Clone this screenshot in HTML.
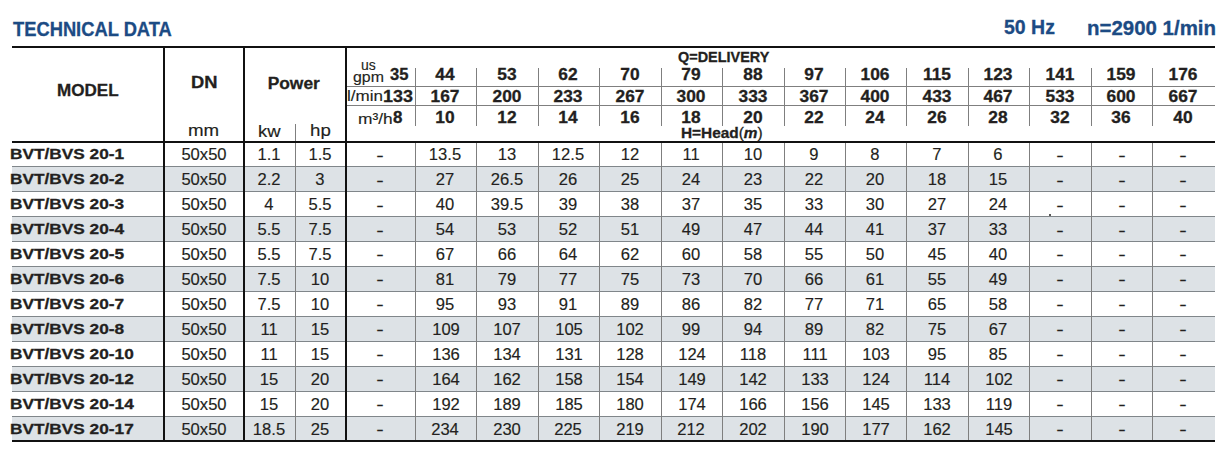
<!DOCTYPE html><html><head><meta charset="utf-8"><style>
html,body{margin:0;padding:0;background:#fff;}
body{width:1228px;height:458px;position:relative;overflow:hidden;font-family:"Liberation Sans",sans-serif;}
.t{position:absolute;white-space:nowrap;line-height:20px;height:20px;-webkit-text-stroke:0.15px currentColor;}
.l{position:absolute;}
.pl{font-weight:400;}
.b{-webkit-text-stroke:0.3px currentColor;}
i{font-style:italic;}
</style></head><body>
<div class="l" style="left:12px;top:166.82px;width:1203px;height:24.92px;background:#dde2e6"></div>
<div class="l" style="left:12px;top:216.66px;width:1203px;height:24.92px;background:#dde2e6"></div>
<div class="l" style="left:12px;top:266.50px;width:1203px;height:24.92px;background:#dde2e6"></div>
<div class="l" style="left:12px;top:316.34px;width:1203px;height:24.92px;background:#dde2e6"></div>
<div class="l" style="left:12px;top:366.18px;width:1203px;height:24.92px;background:#dde2e6"></div>
<div class="l" style="left:12px;top:416.02px;width:1203px;height:24.92px;background:#dde2e6"></div>
<div class="l" style="left:12px;top:166.32px;width:1203px;height:1px;background:#80868a"></div>
<div class="l" style="left:12px;top:191.24px;width:1203px;height:1px;background:#80868a"></div>
<div class="l" style="left:12px;top:216.16px;width:1203px;height:1px;background:#80868a"></div>
<div class="l" style="left:12px;top:241.08px;width:1203px;height:1px;background:#80868a"></div>
<div class="l" style="left:12px;top:266.00px;width:1203px;height:1px;background:#80868a"></div>
<div class="l" style="left:12px;top:290.92px;width:1203px;height:1px;background:#80868a"></div>
<div class="l" style="left:12px;top:315.84px;width:1203px;height:1px;background:#80868a"></div>
<div class="l" style="left:12px;top:340.76px;width:1203px;height:1px;background:#80868a"></div>
<div class="l" style="left:12px;top:365.68px;width:1203px;height:1px;background:#80868a"></div>
<div class="l" style="left:12px;top:390.60px;width:1203px;height:1px;background:#80868a"></div>
<div class="l" style="left:12px;top:415.52px;width:1203px;height:1px;background:#80868a"></div>
<div class="l" style="left:414.90px;top:143px;width:1px;height:297px;background:#7f7f7f"></div>
<div class="l" style="left:414.90px;top:68px;width:1px;height:58px;background:#7f7f7f"></div>
<div class="l" style="left:476.20px;top:143px;width:1px;height:297px;background:#7f7f7f"></div>
<div class="l" style="left:476.20px;top:68px;width:1px;height:58px;background:#7f7f7f"></div>
<div class="l" style="left:538.00px;top:143px;width:1px;height:297px;background:#7f7f7f"></div>
<div class="l" style="left:538.00px;top:68px;width:1px;height:58px;background:#7f7f7f"></div>
<div class="l" style="left:599.30px;top:143px;width:1px;height:297px;background:#7f7f7f"></div>
<div class="l" style="left:599.30px;top:68px;width:1px;height:58px;background:#7f7f7f"></div>
<div class="l" style="left:661.00px;top:143px;width:1px;height:297px;background:#7f7f7f"></div>
<div class="l" style="left:661.00px;top:68px;width:1px;height:58px;background:#7f7f7f"></div>
<div class="l" style="left:722.10px;top:143px;width:1px;height:297px;background:#7f7f7f"></div>
<div class="l" style="left:722.10px;top:68px;width:1px;height:58px;background:#7f7f7f"></div>
<div class="l" style="left:783.90px;top:143px;width:1px;height:297px;background:#7f7f7f"></div>
<div class="l" style="left:783.90px;top:68px;width:1px;height:58px;background:#7f7f7f"></div>
<div class="l" style="left:845.00px;top:143px;width:1px;height:297px;background:#7f7f7f"></div>
<div class="l" style="left:845.00px;top:68px;width:1px;height:58px;background:#7f7f7f"></div>
<div class="l" style="left:906.10px;top:143px;width:1px;height:297px;background:#7f7f7f"></div>
<div class="l" style="left:906.10px;top:68px;width:1px;height:58px;background:#7f7f7f"></div>
<div class="l" style="left:967.80px;top:143px;width:1px;height:297px;background:#7f7f7f"></div>
<div class="l" style="left:967.80px;top:68px;width:1px;height:58px;background:#7f7f7f"></div>
<div class="l" style="left:1029.00px;top:143px;width:1px;height:297px;background:#7f7f7f"></div>
<div class="l" style="left:1029.00px;top:68px;width:1px;height:58px;background:#7f7f7f"></div>
<div class="l" style="left:1090.90px;top:143px;width:1px;height:297px;background:#7f7f7f"></div>
<div class="l" style="left:1090.90px;top:68px;width:1px;height:58px;background:#7f7f7f"></div>
<div class="l" style="left:1152.10px;top:143px;width:1px;height:297px;background:#7f7f7f"></div>
<div class="l" style="left:1152.10px;top:68px;width:1px;height:58px;background:#7f7f7f"></div>
<div class="l" style="left:295px;top:124px;width:1px;height:316px;background:#7f7f7f"></div>
<div class="l" style="left:347px;top:86px;width:868px;height:1px;background:#7f7f7f"></div>
<div class="l" style="left:347px;top:105px;width:868px;height:1px;background:#7f7f7f"></div>
<div class="l" style="left:12px;top:46px;width:1203px;height:2px;background:#111"></div>
<div class="l" style="left:12px;top:141px;width:1203px;height:2px;background:#111"></div>
<div class="l" style="left:12px;top:440px;width:1203px;height:2px;background:#111"></div>
<div class="l" style="left:1049px;top:214px;width:2px;height:2px;background:#222;border-radius:1px"></div>
<div class="l" style="left:163px;top:46px;width:2px;height:396px;background:#111"></div>
<div class="l" style="left:243px;top:46px;width:2px;height:396px;background:#111"></div>
<div class="l" style="left:345px;top:46px;width:2px;height:396px;background:#111"></div>
<div class="t b" style="left:12.65px;top:19.35px;font-size:19.6px;font-weight:700;color:#1c4b84;transform:scaleX(0.9352999999999999);transform-origin:0 0"><span>TECHNICAL DATA</span></div>
<div class="t b" style="left:1003.50px;top:17.15px;font-size:19.6px;font-weight:700;color:#1c4b84;transform:scaleX(0.995);transform-origin:0 0"><span>50 Hz</span></div>
<div class="t b" style="left:1086.58px;top:17.75px;font-size:19.6px;font-weight:700;color:#1c4b84;transform:scaleX(1.043755);transform-origin:0 0"><span>n=2900 1/min</span></div>
<div class="t b" style="left:56.79px;top:80.05px;font-size:17.4px;font-weight:700;color:#231f20;transform:scaleX(0.981);transform-origin:0 0"><span>MODEL</span></div>
<div class="t b" style="left:190.89px;top:71.60px;font-size:17.4px;font-weight:700;color:#231f20;transform:scaleX(1.055);transform-origin:0 0"><span>DN</span></div>
<div class="t b" style="left:267.65px;top:72.65px;font-size:17.4px;font-weight:700;color:#231f20;transform:scaleX(1.0);transform-origin:0 0"><span>Power</span></div>
<div class="t" style="left:188.18px;top:120.50px;font-size:17.0px;font-weight:400;color:#231f20;transform:scaleX(1.1);transform-origin:0 0"><span>mm</span></div>
<div class="t" style="left:257.65px;top:121.60px;font-size:17.0px;font-weight:400;color:#231f20;transform:scaleX(1.0846);transform-origin:0 0"><span>kw</span></div>
<div class="t" style="left:309.93px;top:120.50px;font-size:17.0px;font-weight:400;color:#231f20;transform:scaleX(1.1);transform-origin:0 0"><span>hp</span></div>
<div class="t" style="left:360.63px;top:54.60px;font-size:15.25px;font-weight:400;color:#231f20;transform:scaleX(0.91806);transform-origin:0 0"><span>us</span></div>
<div class="t" style="left:352.55px;top:66.75px;font-size:15.25px;font-weight:400;color:#231f20;transform:scaleX(1.04325);transform-origin:0 0"><span>gpm</span></div>
<div class="t" style="left:347.40px;top:85.60px;font-size:15.25px;font-weight:400;color:#231f20;transform:scaleX(1.11494);transform-origin:0 0"><span>l/min</span></div>
<div class="t" style="left:357.80px;top:109.40px;font-size:15.25px;font-weight:400;color:#231f20;transform:scaleX(1.1363400000000001);transform-origin:0 0"><span>m&sup3;/h</span></div>
<div class="t b" style="left:677.50px;top:47.40px;font-size:14.9px;font-weight:700;color:#231f20;transform:scaleX(0.969);transform-origin:0 0"><span>Q=DELIVERY</span></div>
<div class="t b" style="left:681.09px;top:123.30px;font-size:14.9px;font-weight:700;color:#231f20;transform:scaleX(1.033);transform-origin:0 0"><span>H=Head<span class="pl">(</span><i>m</i><span class="pl">)</span></span></div>
<div class="t b" style="left:390.07px;top:64.80px;font-size:16.6px;font-weight:700;color:#231f20;transform:scaleX(1.002155);transform-origin:0 0"><span>35</span></div>
<div class="t b" style="left:382.72px;top:87.10px;font-size:16.6px;font-weight:700;color:#231f20;transform:scaleX(1.081575);transform-origin:0 0"><span>133</span></div>
<div class="t b" style="left:393.19px;top:108.20px;font-size:16.6px;font-weight:700;color:#231f20;transform:scaleX(1.01992);transform-origin:0 0"><span>8</span></div>
<div class="t b" style="left:345.17px;top:64.65px;width:200px;text-align:center;font-size:16.6px;font-weight:700;color:#231f20;transform:scaleX(1.045);transform-origin:50% 0"><span>44</span></div>
<div class="t b" style="left:345.17px;top:87.15px;width:200px;text-align:center;font-size:16.6px;font-weight:700;color:#231f20;transform:scaleX(1.045);transform-origin:50% 0"><span>167</span></div>
<div class="t b" style="left:345.17px;top:107.65px;width:200px;text-align:center;font-size:16.6px;font-weight:700;color:#231f20;transform:scaleX(1.045);transform-origin:50% 0"><span>10</span></div>
<div class="t b" style="left:406.72px;top:64.65px;width:200px;text-align:center;font-size:16.6px;font-weight:700;color:#231f20;transform:scaleX(1.045);transform-origin:50% 0"><span>53</span></div>
<div class="t b" style="left:406.72px;top:87.15px;width:200px;text-align:center;font-size:16.6px;font-weight:700;color:#231f20;transform:scaleX(1.045);transform-origin:50% 0"><span>200</span></div>
<div class="t b" style="left:406.72px;top:107.65px;width:200px;text-align:center;font-size:16.6px;font-weight:700;color:#231f20;transform:scaleX(1.045);transform-origin:50% 0"><span>12</span></div>
<div class="t b" style="left:468.27px;top:64.65px;width:200px;text-align:center;font-size:16.6px;font-weight:700;color:#231f20;transform:scaleX(1.045);transform-origin:50% 0"><span>62</span></div>
<div class="t b" style="left:468.27px;top:87.15px;width:200px;text-align:center;font-size:16.6px;font-weight:700;color:#231f20;transform:scaleX(1.045);transform-origin:50% 0"><span>233</span></div>
<div class="t b" style="left:468.27px;top:107.65px;width:200px;text-align:center;font-size:16.6px;font-weight:700;color:#231f20;transform:scaleX(1.045);transform-origin:50% 0"><span>14</span></div>
<div class="t b" style="left:529.77px;top:64.65px;width:200px;text-align:center;font-size:16.6px;font-weight:700;color:#231f20;transform:scaleX(1.045);transform-origin:50% 0"><span>70</span></div>
<div class="t b" style="left:529.77px;top:87.15px;width:200px;text-align:center;font-size:16.6px;font-weight:700;color:#231f20;transform:scaleX(1.045);transform-origin:50% 0"><span>267</span></div>
<div class="t b" style="left:529.77px;top:107.65px;width:200px;text-align:center;font-size:16.6px;font-weight:700;color:#231f20;transform:scaleX(1.045);transform-origin:50% 0"><span>16</span></div>
<div class="t b" style="left:591.17px;top:64.65px;width:200px;text-align:center;font-size:16.6px;font-weight:700;color:#231f20;transform:scaleX(1.045);transform-origin:50% 0"><span>79</span></div>
<div class="t b" style="left:591.17px;top:87.15px;width:200px;text-align:center;font-size:16.6px;font-weight:700;color:#231f20;transform:scaleX(1.045);transform-origin:50% 0"><span>300</span></div>
<div class="t b" style="left:591.17px;top:107.65px;width:200px;text-align:center;font-size:16.6px;font-weight:700;color:#231f20;transform:scaleX(1.045);transform-origin:50% 0"><span>18</span></div>
<div class="t b" style="left:652.62px;top:64.65px;width:200px;text-align:center;font-size:16.6px;font-weight:700;color:#231f20;transform:scaleX(1.045);transform-origin:50% 0"><span>88</span></div>
<div class="t b" style="left:652.62px;top:87.15px;width:200px;text-align:center;font-size:16.6px;font-weight:700;color:#231f20;transform:scaleX(1.045);transform-origin:50% 0"><span>333</span></div>
<div class="t b" style="left:652.62px;top:107.65px;width:200px;text-align:center;font-size:16.6px;font-weight:700;color:#231f20;transform:scaleX(1.045);transform-origin:50% 0"><span>20</span></div>
<div class="t b" style="left:714.07px;top:64.65px;width:200px;text-align:center;font-size:16.6px;font-weight:700;color:#231f20;transform:scaleX(1.045);transform-origin:50% 0"><span>97</span></div>
<div class="t b" style="left:714.07px;top:87.15px;width:200px;text-align:center;font-size:16.6px;font-weight:700;color:#231f20;transform:scaleX(1.045);transform-origin:50% 0"><span>367</span></div>
<div class="t b" style="left:714.07px;top:107.65px;width:200px;text-align:center;font-size:16.6px;font-weight:700;color:#231f20;transform:scaleX(1.045);transform-origin:50% 0"><span>22</span></div>
<div class="t b" style="left:775.17px;top:64.65px;width:200px;text-align:center;font-size:16.6px;font-weight:700;color:#231f20;transform:scaleX(1.045);transform-origin:50% 0"><span>106</span></div>
<div class="t b" style="left:775.17px;top:87.15px;width:200px;text-align:center;font-size:16.6px;font-weight:700;color:#231f20;transform:scaleX(1.045);transform-origin:50% 0"><span>400</span></div>
<div class="t b" style="left:775.17px;top:107.65px;width:200px;text-align:center;font-size:16.6px;font-weight:700;color:#231f20;transform:scaleX(1.045);transform-origin:50% 0"><span>24</span></div>
<div class="t b" style="left:836.57px;top:64.65px;width:200px;text-align:center;font-size:16.6px;font-weight:700;color:#231f20;transform:scaleX(1.045);transform-origin:50% 0"><span>115</span></div>
<div class="t b" style="left:836.57px;top:87.15px;width:200px;text-align:center;font-size:16.6px;font-weight:700;color:#231f20;transform:scaleX(1.045);transform-origin:50% 0"><span>433</span></div>
<div class="t b" style="left:836.57px;top:107.65px;width:200px;text-align:center;font-size:16.6px;font-weight:700;color:#231f20;transform:scaleX(1.045);transform-origin:50% 0"><span>26</span></div>
<div class="t b" style="left:898.02px;top:64.65px;width:200px;text-align:center;font-size:16.6px;font-weight:700;color:#231f20;transform:scaleX(1.045);transform-origin:50% 0"><span>123</span></div>
<div class="t b" style="left:898.02px;top:87.15px;width:200px;text-align:center;font-size:16.6px;font-weight:700;color:#231f20;transform:scaleX(1.045);transform-origin:50% 0"><span>467</span></div>
<div class="t b" style="left:898.02px;top:107.65px;width:200px;text-align:center;font-size:16.6px;font-weight:700;color:#231f20;transform:scaleX(1.045);transform-origin:50% 0"><span>28</span></div>
<div class="t b" style="left:959.57px;top:64.65px;width:200px;text-align:center;font-size:16.6px;font-weight:700;color:#231f20;transform:scaleX(1.045);transform-origin:50% 0"><span>141</span></div>
<div class="t b" style="left:959.57px;top:87.15px;width:200px;text-align:center;font-size:16.6px;font-weight:700;color:#231f20;transform:scaleX(1.045);transform-origin:50% 0"><span>533</span></div>
<div class="t b" style="left:959.57px;top:107.65px;width:200px;text-align:center;font-size:16.6px;font-weight:700;color:#231f20;transform:scaleX(1.045);transform-origin:50% 0"><span>32</span></div>
<div class="t b" style="left:1021.12px;top:64.65px;width:200px;text-align:center;font-size:16.6px;font-weight:700;color:#231f20;transform:scaleX(1.045);transform-origin:50% 0"><span>159</span></div>
<div class="t b" style="left:1021.12px;top:87.15px;width:200px;text-align:center;font-size:16.6px;font-weight:700;color:#231f20;transform:scaleX(1.045);transform-origin:50% 0"><span>600</span></div>
<div class="t b" style="left:1021.12px;top:107.65px;width:200px;text-align:center;font-size:16.6px;font-weight:700;color:#231f20;transform:scaleX(1.045);transform-origin:50% 0"><span>36</span></div>
<div class="t b" style="left:1082.92px;top:64.65px;width:200px;text-align:center;font-size:16.6px;font-weight:700;color:#231f20;transform:scaleX(1.045);transform-origin:50% 0"><span>176</span></div>
<div class="t b" style="left:1082.92px;top:87.15px;width:200px;text-align:center;font-size:16.6px;font-weight:700;color:#231f20;transform:scaleX(1.045);transform-origin:50% 0"><span>667</span></div>
<div class="t b" style="left:1082.92px;top:107.65px;width:200px;text-align:center;font-size:16.6px;font-weight:700;color:#231f20;transform:scaleX(1.045);transform-origin:50% 0"><span>40</span></div>
<div class="t b" style="left:9.80px;top:144.45px;font-size:14.7px;font-weight:700;color:#231f20;transform:scaleX(1.175);transform-origin:0 0"><span>BVT/BVS 20-1</span></div>
<div class="t" style="left:103.59px;top:144.50px;width:200px;text-align:center;font-size:16.75px;font-weight:400;color:#231f20;transform:scaleX(0.99);transform-origin:50% 0"><span>50x50</span></div>
<div class="t" style="left:169.39px;top:144.50px;width:200px;text-align:center;font-size:16.75px;font-weight:400;color:#231f20;transform:scaleX(0.99);transform-origin:50% 0"><span>1.1</span></div>
<div class="t" style="left:220.39px;top:144.50px;width:200px;text-align:center;font-size:16.75px;font-weight:400;color:#231f20;transform:scaleX(0.99);transform-origin:50% 0"><span>1.5</span></div>
<div class="t" style="left:280.29px;top:145.80px;width:200px;text-align:center;font-size:16.75px;font-weight:400;color:#231f20;transform:scaleX(1.3365);transform-origin:50% 0"><span>-</span></div>
<div class="t" style="left:345.24px;top:144.50px;width:200px;text-align:center;font-size:16.75px;font-weight:400;color:#231f20;transform:scaleX(0.99);transform-origin:50% 0"><span>13.5</span></div>
<div class="t" style="left:406.79px;top:144.50px;width:200px;text-align:center;font-size:16.75px;font-weight:400;color:#231f20;transform:scaleX(0.99);transform-origin:50% 0"><span>13</span></div>
<div class="t" style="left:468.34px;top:144.50px;width:200px;text-align:center;font-size:16.75px;font-weight:400;color:#231f20;transform:scaleX(0.99);transform-origin:50% 0"><span>12.5</span></div>
<div class="t" style="left:529.84px;top:144.50px;width:200px;text-align:center;font-size:16.75px;font-weight:400;color:#231f20;transform:scaleX(0.99);transform-origin:50% 0"><span>12</span></div>
<div class="t" style="left:591.24px;top:144.50px;width:200px;text-align:center;font-size:16.75px;font-weight:400;color:#231f20;transform:scaleX(0.99);transform-origin:50% 0"><span>11</span></div>
<div class="t" style="left:652.69px;top:144.50px;width:200px;text-align:center;font-size:16.75px;font-weight:400;color:#231f20;transform:scaleX(0.99);transform-origin:50% 0"><span>10</span></div>
<div class="t" style="left:714.14px;top:144.50px;width:200px;text-align:center;font-size:16.75px;font-weight:400;color:#231f20;transform:scaleX(0.99);transform-origin:50% 0"><span>9</span></div>
<div class="t" style="left:775.24px;top:144.50px;width:200px;text-align:center;font-size:16.75px;font-weight:400;color:#231f20;transform:scaleX(0.99);transform-origin:50% 0"><span>8</span></div>
<div class="t" style="left:836.64px;top:144.50px;width:200px;text-align:center;font-size:16.75px;font-weight:400;color:#231f20;transform:scaleX(0.99);transform-origin:50% 0"><span>7</span></div>
<div class="t" style="left:898.09px;top:144.50px;width:200px;text-align:center;font-size:16.75px;font-weight:400;color:#231f20;transform:scaleX(0.99);transform-origin:50% 0"><span>6</span></div>
<div class="t" style="left:960.04px;top:145.80px;width:200px;text-align:center;font-size:16.75px;font-weight:400;color:#231f20;transform:scaleX(1.3365);transform-origin:50% 0"><span>-</span></div>
<div class="t" style="left:1021.59px;top:145.80px;width:200px;text-align:center;font-size:16.75px;font-weight:400;color:#231f20;transform:scaleX(1.3365);transform-origin:50% 0"><span>-</span></div>
<div class="t" style="left:1083.39px;top:145.80px;width:200px;text-align:center;font-size:16.75px;font-weight:400;color:#231f20;transform:scaleX(1.3365);transform-origin:50% 0"><span>-</span></div>
<div class="t b" style="left:9.80px;top:169.45px;font-size:14.7px;font-weight:700;color:#231f20;transform:scaleX(1.175);transform-origin:0 0"><span>BVT/BVS 20-2</span></div>
<div class="t" style="left:103.59px;top:169.50px;width:200px;text-align:center;font-size:16.75px;font-weight:400;color:#231f20;transform:scaleX(0.99);transform-origin:50% 0"><span>50x50</span></div>
<div class="t" style="left:168.79px;top:169.50px;width:200px;text-align:center;font-size:16.75px;font-weight:400;color:#231f20;transform:scaleX(0.99);transform-origin:50% 0"><span>2.2</span></div>
<div class="t" style="left:219.79px;top:169.50px;width:200px;text-align:center;font-size:16.75px;font-weight:400;color:#231f20;transform:scaleX(0.99);transform-origin:50% 0"><span>3</span></div>
<div class="t" style="left:280.29px;top:170.72px;width:200px;text-align:center;font-size:16.75px;font-weight:400;color:#231f20;transform:scaleX(1.3365);transform-origin:50% 0"><span>-</span></div>
<div class="t" style="left:345.24px;top:169.50px;width:200px;text-align:center;font-size:16.75px;font-weight:400;color:#231f20;transform:scaleX(0.99);transform-origin:50% 0"><span>27</span></div>
<div class="t" style="left:406.79px;top:169.50px;width:200px;text-align:center;font-size:16.75px;font-weight:400;color:#231f20;transform:scaleX(0.99);transform-origin:50% 0"><span>26.5</span></div>
<div class="t" style="left:468.34px;top:169.50px;width:200px;text-align:center;font-size:16.75px;font-weight:400;color:#231f20;transform:scaleX(0.99);transform-origin:50% 0"><span>26</span></div>
<div class="t" style="left:529.84px;top:169.50px;width:200px;text-align:center;font-size:16.75px;font-weight:400;color:#231f20;transform:scaleX(0.99);transform-origin:50% 0"><span>25</span></div>
<div class="t" style="left:591.24px;top:169.50px;width:200px;text-align:center;font-size:16.75px;font-weight:400;color:#231f20;transform:scaleX(0.99);transform-origin:50% 0"><span>24</span></div>
<div class="t" style="left:652.69px;top:169.50px;width:200px;text-align:center;font-size:16.75px;font-weight:400;color:#231f20;transform:scaleX(0.99);transform-origin:50% 0"><span>23</span></div>
<div class="t" style="left:714.14px;top:169.50px;width:200px;text-align:center;font-size:16.75px;font-weight:400;color:#231f20;transform:scaleX(0.99);transform-origin:50% 0"><span>22</span></div>
<div class="t" style="left:775.24px;top:169.50px;width:200px;text-align:center;font-size:16.75px;font-weight:400;color:#231f20;transform:scaleX(0.99);transform-origin:50% 0"><span>20</span></div>
<div class="t" style="left:836.64px;top:169.50px;width:200px;text-align:center;font-size:16.75px;font-weight:400;color:#231f20;transform:scaleX(0.99);transform-origin:50% 0"><span>18</span></div>
<div class="t" style="left:898.09px;top:169.50px;width:200px;text-align:center;font-size:16.75px;font-weight:400;color:#231f20;transform:scaleX(0.99);transform-origin:50% 0"><span>15</span></div>
<div class="t" style="left:960.04px;top:170.72px;width:200px;text-align:center;font-size:16.75px;font-weight:400;color:#231f20;transform:scaleX(1.3365);transform-origin:50% 0"><span>-</span></div>
<div class="t" style="left:1021.59px;top:170.72px;width:200px;text-align:center;font-size:16.75px;font-weight:400;color:#231f20;transform:scaleX(1.3365);transform-origin:50% 0"><span>-</span></div>
<div class="t" style="left:1083.39px;top:170.72px;width:200px;text-align:center;font-size:16.75px;font-weight:400;color:#231f20;transform:scaleX(1.3365);transform-origin:50% 0"><span>-</span></div>
<div class="t b" style="left:9.80px;top:194.45px;font-size:14.7px;font-weight:700;color:#231f20;transform:scaleX(1.175);transform-origin:0 0"><span>BVT/BVS 20-3</span></div>
<div class="t" style="left:103.59px;top:194.50px;width:200px;text-align:center;font-size:16.75px;font-weight:400;color:#231f20;transform:scaleX(0.99);transform-origin:50% 0"><span>50x50</span></div>
<div class="t" style="left:168.79px;top:194.50px;width:200px;text-align:center;font-size:16.75px;font-weight:400;color:#231f20;transform:scaleX(0.99);transform-origin:50% 0"><span>4</span></div>
<div class="t" style="left:219.79px;top:194.50px;width:200px;text-align:center;font-size:16.75px;font-weight:400;color:#231f20;transform:scaleX(0.99);transform-origin:50% 0"><span>5.5</span></div>
<div class="t" style="left:280.29px;top:195.64px;width:200px;text-align:center;font-size:16.75px;font-weight:400;color:#231f20;transform:scaleX(1.3365);transform-origin:50% 0"><span>-</span></div>
<div class="t" style="left:345.24px;top:194.50px;width:200px;text-align:center;font-size:16.75px;font-weight:400;color:#231f20;transform:scaleX(0.99);transform-origin:50% 0"><span>40</span></div>
<div class="t" style="left:406.79px;top:194.50px;width:200px;text-align:center;font-size:16.75px;font-weight:400;color:#231f20;transform:scaleX(0.99);transform-origin:50% 0"><span>39.5</span></div>
<div class="t" style="left:468.34px;top:194.50px;width:200px;text-align:center;font-size:16.75px;font-weight:400;color:#231f20;transform:scaleX(0.99);transform-origin:50% 0"><span>39</span></div>
<div class="t" style="left:529.84px;top:194.50px;width:200px;text-align:center;font-size:16.75px;font-weight:400;color:#231f20;transform:scaleX(0.99);transform-origin:50% 0"><span>38</span></div>
<div class="t" style="left:591.24px;top:194.50px;width:200px;text-align:center;font-size:16.75px;font-weight:400;color:#231f20;transform:scaleX(0.99);transform-origin:50% 0"><span>37</span></div>
<div class="t" style="left:652.69px;top:194.50px;width:200px;text-align:center;font-size:16.75px;font-weight:400;color:#231f20;transform:scaleX(0.99);transform-origin:50% 0"><span>35</span></div>
<div class="t" style="left:714.14px;top:194.50px;width:200px;text-align:center;font-size:16.75px;font-weight:400;color:#231f20;transform:scaleX(0.99);transform-origin:50% 0"><span>33</span></div>
<div class="t" style="left:775.24px;top:194.50px;width:200px;text-align:center;font-size:16.75px;font-weight:400;color:#231f20;transform:scaleX(0.99);transform-origin:50% 0"><span>30</span></div>
<div class="t" style="left:836.64px;top:194.50px;width:200px;text-align:center;font-size:16.75px;font-weight:400;color:#231f20;transform:scaleX(0.99);transform-origin:50% 0"><span>27</span></div>
<div class="t" style="left:898.09px;top:194.50px;width:200px;text-align:center;font-size:16.75px;font-weight:400;color:#231f20;transform:scaleX(0.99);transform-origin:50% 0"><span>24</span></div>
<div class="t" style="left:960.04px;top:195.64px;width:200px;text-align:center;font-size:16.75px;font-weight:400;color:#231f20;transform:scaleX(1.3365);transform-origin:50% 0"><span>-</span></div>
<div class="t" style="left:1021.59px;top:195.64px;width:200px;text-align:center;font-size:16.75px;font-weight:400;color:#231f20;transform:scaleX(1.3365);transform-origin:50% 0"><span>-</span></div>
<div class="t" style="left:1083.39px;top:195.64px;width:200px;text-align:center;font-size:16.75px;font-weight:400;color:#231f20;transform:scaleX(1.3365);transform-origin:50% 0"><span>-</span></div>
<div class="t b" style="left:9.80px;top:219.45px;font-size:14.7px;font-weight:700;color:#231f20;transform:scaleX(1.175);transform-origin:0 0"><span>BVT/BVS 20-4</span></div>
<div class="t" style="left:103.59px;top:219.50px;width:200px;text-align:center;font-size:16.75px;font-weight:400;color:#231f20;transform:scaleX(0.99);transform-origin:50% 0"><span>50x50</span></div>
<div class="t" style="left:168.79px;top:219.50px;width:200px;text-align:center;font-size:16.75px;font-weight:400;color:#231f20;transform:scaleX(0.99);transform-origin:50% 0"><span>5.5</span></div>
<div class="t" style="left:219.79px;top:219.50px;width:200px;text-align:center;font-size:16.75px;font-weight:400;color:#231f20;transform:scaleX(0.99);transform-origin:50% 0"><span>7.5</span></div>
<div class="t" style="left:280.29px;top:220.56px;width:200px;text-align:center;font-size:16.75px;font-weight:400;color:#231f20;transform:scaleX(1.3365);transform-origin:50% 0"><span>-</span></div>
<div class="t" style="left:345.24px;top:219.50px;width:200px;text-align:center;font-size:16.75px;font-weight:400;color:#231f20;transform:scaleX(0.99);transform-origin:50% 0"><span>54</span></div>
<div class="t" style="left:406.79px;top:219.50px;width:200px;text-align:center;font-size:16.75px;font-weight:400;color:#231f20;transform:scaleX(0.99);transform-origin:50% 0"><span>53</span></div>
<div class="t" style="left:468.34px;top:219.50px;width:200px;text-align:center;font-size:16.75px;font-weight:400;color:#231f20;transform:scaleX(0.99);transform-origin:50% 0"><span>52</span></div>
<div class="t" style="left:529.84px;top:219.50px;width:200px;text-align:center;font-size:16.75px;font-weight:400;color:#231f20;transform:scaleX(0.99);transform-origin:50% 0"><span>51</span></div>
<div class="t" style="left:591.24px;top:219.50px;width:200px;text-align:center;font-size:16.75px;font-weight:400;color:#231f20;transform:scaleX(0.99);transform-origin:50% 0"><span>49</span></div>
<div class="t" style="left:652.69px;top:219.50px;width:200px;text-align:center;font-size:16.75px;font-weight:400;color:#231f20;transform:scaleX(0.99);transform-origin:50% 0"><span>47</span></div>
<div class="t" style="left:714.14px;top:219.50px;width:200px;text-align:center;font-size:16.75px;font-weight:400;color:#231f20;transform:scaleX(0.99);transform-origin:50% 0"><span>44</span></div>
<div class="t" style="left:775.24px;top:219.50px;width:200px;text-align:center;font-size:16.75px;font-weight:400;color:#231f20;transform:scaleX(0.99);transform-origin:50% 0"><span>41</span></div>
<div class="t" style="left:836.64px;top:219.50px;width:200px;text-align:center;font-size:16.75px;font-weight:400;color:#231f20;transform:scaleX(0.99);transform-origin:50% 0"><span>37</span></div>
<div class="t" style="left:898.09px;top:219.50px;width:200px;text-align:center;font-size:16.75px;font-weight:400;color:#231f20;transform:scaleX(0.99);transform-origin:50% 0"><span>33</span></div>
<div class="t" style="left:960.04px;top:220.56px;width:200px;text-align:center;font-size:16.75px;font-weight:400;color:#231f20;transform:scaleX(1.3365);transform-origin:50% 0"><span>-</span></div>
<div class="t" style="left:1021.59px;top:220.56px;width:200px;text-align:center;font-size:16.75px;font-weight:400;color:#231f20;transform:scaleX(1.3365);transform-origin:50% 0"><span>-</span></div>
<div class="t" style="left:1083.39px;top:220.56px;width:200px;text-align:center;font-size:16.75px;font-weight:400;color:#231f20;transform:scaleX(1.3365);transform-origin:50% 0"><span>-</span></div>
<div class="t b" style="left:9.80px;top:244.45px;font-size:14.7px;font-weight:700;color:#231f20;transform:scaleX(1.175);transform-origin:0 0"><span>BVT/BVS 20-5</span></div>
<div class="t" style="left:103.59px;top:244.50px;width:200px;text-align:center;font-size:16.75px;font-weight:400;color:#231f20;transform:scaleX(0.99);transform-origin:50% 0"><span>50x50</span></div>
<div class="t" style="left:168.79px;top:244.50px;width:200px;text-align:center;font-size:16.75px;font-weight:400;color:#231f20;transform:scaleX(0.99);transform-origin:50% 0"><span>5.5</span></div>
<div class="t" style="left:219.79px;top:244.50px;width:200px;text-align:center;font-size:16.75px;font-weight:400;color:#231f20;transform:scaleX(0.99);transform-origin:50% 0"><span>7.5</span></div>
<div class="t" style="left:280.29px;top:245.48px;width:200px;text-align:center;font-size:16.75px;font-weight:400;color:#231f20;transform:scaleX(1.3365);transform-origin:50% 0"><span>-</span></div>
<div class="t" style="left:345.24px;top:244.50px;width:200px;text-align:center;font-size:16.75px;font-weight:400;color:#231f20;transform:scaleX(0.99);transform-origin:50% 0"><span>67</span></div>
<div class="t" style="left:406.79px;top:244.50px;width:200px;text-align:center;font-size:16.75px;font-weight:400;color:#231f20;transform:scaleX(0.99);transform-origin:50% 0"><span>66</span></div>
<div class="t" style="left:468.34px;top:244.50px;width:200px;text-align:center;font-size:16.75px;font-weight:400;color:#231f20;transform:scaleX(0.99);transform-origin:50% 0"><span>64</span></div>
<div class="t" style="left:529.84px;top:244.50px;width:200px;text-align:center;font-size:16.75px;font-weight:400;color:#231f20;transform:scaleX(0.99);transform-origin:50% 0"><span>62</span></div>
<div class="t" style="left:591.24px;top:244.50px;width:200px;text-align:center;font-size:16.75px;font-weight:400;color:#231f20;transform:scaleX(0.99);transform-origin:50% 0"><span>60</span></div>
<div class="t" style="left:652.69px;top:244.50px;width:200px;text-align:center;font-size:16.75px;font-weight:400;color:#231f20;transform:scaleX(0.99);transform-origin:50% 0"><span>58</span></div>
<div class="t" style="left:714.14px;top:244.50px;width:200px;text-align:center;font-size:16.75px;font-weight:400;color:#231f20;transform:scaleX(0.99);transform-origin:50% 0"><span>55</span></div>
<div class="t" style="left:775.24px;top:244.50px;width:200px;text-align:center;font-size:16.75px;font-weight:400;color:#231f20;transform:scaleX(0.99);transform-origin:50% 0"><span>50</span></div>
<div class="t" style="left:836.64px;top:244.50px;width:200px;text-align:center;font-size:16.75px;font-weight:400;color:#231f20;transform:scaleX(0.99);transform-origin:50% 0"><span>45</span></div>
<div class="t" style="left:898.09px;top:244.50px;width:200px;text-align:center;font-size:16.75px;font-weight:400;color:#231f20;transform:scaleX(0.99);transform-origin:50% 0"><span>40</span></div>
<div class="t" style="left:960.04px;top:245.48px;width:200px;text-align:center;font-size:16.75px;font-weight:400;color:#231f20;transform:scaleX(1.3365);transform-origin:50% 0"><span>-</span></div>
<div class="t" style="left:1021.59px;top:245.48px;width:200px;text-align:center;font-size:16.75px;font-weight:400;color:#231f20;transform:scaleX(1.3365);transform-origin:50% 0"><span>-</span></div>
<div class="t" style="left:1083.39px;top:245.48px;width:200px;text-align:center;font-size:16.75px;font-weight:400;color:#231f20;transform:scaleX(1.3365);transform-origin:50% 0"><span>-</span></div>
<div class="t b" style="left:9.80px;top:269.45px;font-size:14.7px;font-weight:700;color:#231f20;transform:scaleX(1.175);transform-origin:0 0"><span>BVT/BVS 20-6</span></div>
<div class="t" style="left:103.59px;top:269.50px;width:200px;text-align:center;font-size:16.75px;font-weight:400;color:#231f20;transform:scaleX(0.99);transform-origin:50% 0"><span>50x50</span></div>
<div class="t" style="left:168.79px;top:269.50px;width:200px;text-align:center;font-size:16.75px;font-weight:400;color:#231f20;transform:scaleX(0.99);transform-origin:50% 0"><span>7.5</span></div>
<div class="t" style="left:219.79px;top:269.50px;width:200px;text-align:center;font-size:16.75px;font-weight:400;color:#231f20;transform:scaleX(0.99);transform-origin:50% 0"><span>10</span></div>
<div class="t" style="left:280.29px;top:270.40px;width:200px;text-align:center;font-size:16.75px;font-weight:400;color:#231f20;transform:scaleX(1.3365);transform-origin:50% 0"><span>-</span></div>
<div class="t" style="left:345.24px;top:269.50px;width:200px;text-align:center;font-size:16.75px;font-weight:400;color:#231f20;transform:scaleX(0.99);transform-origin:50% 0"><span>81</span></div>
<div class="t" style="left:406.79px;top:269.50px;width:200px;text-align:center;font-size:16.75px;font-weight:400;color:#231f20;transform:scaleX(0.99);transform-origin:50% 0"><span>79</span></div>
<div class="t" style="left:468.34px;top:269.50px;width:200px;text-align:center;font-size:16.75px;font-weight:400;color:#231f20;transform:scaleX(0.99);transform-origin:50% 0"><span>77</span></div>
<div class="t" style="left:529.84px;top:269.50px;width:200px;text-align:center;font-size:16.75px;font-weight:400;color:#231f20;transform:scaleX(0.99);transform-origin:50% 0"><span>75</span></div>
<div class="t" style="left:591.24px;top:269.50px;width:200px;text-align:center;font-size:16.75px;font-weight:400;color:#231f20;transform:scaleX(0.99);transform-origin:50% 0"><span>73</span></div>
<div class="t" style="left:652.69px;top:269.50px;width:200px;text-align:center;font-size:16.75px;font-weight:400;color:#231f20;transform:scaleX(0.99);transform-origin:50% 0"><span>70</span></div>
<div class="t" style="left:714.14px;top:269.50px;width:200px;text-align:center;font-size:16.75px;font-weight:400;color:#231f20;transform:scaleX(0.99);transform-origin:50% 0"><span>66</span></div>
<div class="t" style="left:775.24px;top:269.50px;width:200px;text-align:center;font-size:16.75px;font-weight:400;color:#231f20;transform:scaleX(0.99);transform-origin:50% 0"><span>61</span></div>
<div class="t" style="left:836.64px;top:269.50px;width:200px;text-align:center;font-size:16.75px;font-weight:400;color:#231f20;transform:scaleX(0.99);transform-origin:50% 0"><span>55</span></div>
<div class="t" style="left:898.09px;top:269.50px;width:200px;text-align:center;font-size:16.75px;font-weight:400;color:#231f20;transform:scaleX(0.99);transform-origin:50% 0"><span>49</span></div>
<div class="t" style="left:960.04px;top:270.40px;width:200px;text-align:center;font-size:16.75px;font-weight:400;color:#231f20;transform:scaleX(1.3365);transform-origin:50% 0"><span>-</span></div>
<div class="t" style="left:1021.59px;top:270.40px;width:200px;text-align:center;font-size:16.75px;font-weight:400;color:#231f20;transform:scaleX(1.3365);transform-origin:50% 0"><span>-</span></div>
<div class="t" style="left:1083.39px;top:270.40px;width:200px;text-align:center;font-size:16.75px;font-weight:400;color:#231f20;transform:scaleX(1.3365);transform-origin:50% 0"><span>-</span></div>
<div class="t b" style="left:9.80px;top:294.45px;font-size:14.7px;font-weight:700;color:#231f20;transform:scaleX(1.175);transform-origin:0 0"><span>BVT/BVS 20-7</span></div>
<div class="t" style="left:103.59px;top:294.50px;width:200px;text-align:center;font-size:16.75px;font-weight:400;color:#231f20;transform:scaleX(0.99);transform-origin:50% 0"><span>50x50</span></div>
<div class="t" style="left:168.79px;top:294.50px;width:200px;text-align:center;font-size:16.75px;font-weight:400;color:#231f20;transform:scaleX(0.99);transform-origin:50% 0"><span>7.5</span></div>
<div class="t" style="left:219.79px;top:294.50px;width:200px;text-align:center;font-size:16.75px;font-weight:400;color:#231f20;transform:scaleX(0.99);transform-origin:50% 0"><span>10</span></div>
<div class="t" style="left:280.29px;top:295.32px;width:200px;text-align:center;font-size:16.75px;font-weight:400;color:#231f20;transform:scaleX(1.3365);transform-origin:50% 0"><span>-</span></div>
<div class="t" style="left:345.24px;top:294.50px;width:200px;text-align:center;font-size:16.75px;font-weight:400;color:#231f20;transform:scaleX(0.99);transform-origin:50% 0"><span>95</span></div>
<div class="t" style="left:406.79px;top:294.50px;width:200px;text-align:center;font-size:16.75px;font-weight:400;color:#231f20;transform:scaleX(0.99);transform-origin:50% 0"><span>93</span></div>
<div class="t" style="left:468.34px;top:294.50px;width:200px;text-align:center;font-size:16.75px;font-weight:400;color:#231f20;transform:scaleX(0.99);transform-origin:50% 0"><span>91</span></div>
<div class="t" style="left:529.84px;top:294.50px;width:200px;text-align:center;font-size:16.75px;font-weight:400;color:#231f20;transform:scaleX(0.99);transform-origin:50% 0"><span>89</span></div>
<div class="t" style="left:591.24px;top:294.50px;width:200px;text-align:center;font-size:16.75px;font-weight:400;color:#231f20;transform:scaleX(0.99);transform-origin:50% 0"><span>86</span></div>
<div class="t" style="left:652.69px;top:294.50px;width:200px;text-align:center;font-size:16.75px;font-weight:400;color:#231f20;transform:scaleX(0.99);transform-origin:50% 0"><span>82</span></div>
<div class="t" style="left:714.14px;top:294.50px;width:200px;text-align:center;font-size:16.75px;font-weight:400;color:#231f20;transform:scaleX(0.99);transform-origin:50% 0"><span>77</span></div>
<div class="t" style="left:775.24px;top:294.50px;width:200px;text-align:center;font-size:16.75px;font-weight:400;color:#231f20;transform:scaleX(0.99);transform-origin:50% 0"><span>71</span></div>
<div class="t" style="left:836.64px;top:294.50px;width:200px;text-align:center;font-size:16.75px;font-weight:400;color:#231f20;transform:scaleX(0.99);transform-origin:50% 0"><span>65</span></div>
<div class="t" style="left:898.09px;top:294.50px;width:200px;text-align:center;font-size:16.75px;font-weight:400;color:#231f20;transform:scaleX(0.99);transform-origin:50% 0"><span>58</span></div>
<div class="t" style="left:960.04px;top:295.32px;width:200px;text-align:center;font-size:16.75px;font-weight:400;color:#231f20;transform:scaleX(1.3365);transform-origin:50% 0"><span>-</span></div>
<div class="t" style="left:1021.59px;top:295.32px;width:200px;text-align:center;font-size:16.75px;font-weight:400;color:#231f20;transform:scaleX(1.3365);transform-origin:50% 0"><span>-</span></div>
<div class="t" style="left:1083.39px;top:295.32px;width:200px;text-align:center;font-size:16.75px;font-weight:400;color:#231f20;transform:scaleX(1.3365);transform-origin:50% 0"><span>-</span></div>
<div class="t b" style="left:9.80px;top:319.45px;font-size:14.7px;font-weight:700;color:#231f20;transform:scaleX(1.175);transform-origin:0 0"><span>BVT/BVS 20-8</span></div>
<div class="t" style="left:103.59px;top:319.50px;width:200px;text-align:center;font-size:16.75px;font-weight:400;color:#231f20;transform:scaleX(0.99);transform-origin:50% 0"><span>50x50</span></div>
<div class="t" style="left:168.79px;top:319.50px;width:200px;text-align:center;font-size:16.75px;font-weight:400;color:#231f20;transform:scaleX(0.99);transform-origin:50% 0"><span>11</span></div>
<div class="t" style="left:219.79px;top:319.50px;width:200px;text-align:center;font-size:16.75px;font-weight:400;color:#231f20;transform:scaleX(0.99);transform-origin:50% 0"><span>15</span></div>
<div class="t" style="left:280.29px;top:320.24px;width:200px;text-align:center;font-size:16.75px;font-weight:400;color:#231f20;transform:scaleX(1.3365);transform-origin:50% 0"><span>-</span></div>
<div class="t" style="left:345.84px;top:319.50px;width:200px;text-align:center;font-size:16.75px;font-weight:400;color:#231f20;transform:scaleX(0.99);transform-origin:50% 0"><span>109</span></div>
<div class="t" style="left:407.39px;top:319.50px;width:200px;text-align:center;font-size:16.75px;font-weight:400;color:#231f20;transform:scaleX(0.99);transform-origin:50% 0"><span>107</span></div>
<div class="t" style="left:468.94px;top:319.50px;width:200px;text-align:center;font-size:16.75px;font-weight:400;color:#231f20;transform:scaleX(0.99);transform-origin:50% 0"><span>105</span></div>
<div class="t" style="left:530.44px;top:319.50px;width:200px;text-align:center;font-size:16.75px;font-weight:400;color:#231f20;transform:scaleX(0.99);transform-origin:50% 0"><span>102</span></div>
<div class="t" style="left:591.24px;top:319.50px;width:200px;text-align:center;font-size:16.75px;font-weight:400;color:#231f20;transform:scaleX(0.99);transform-origin:50% 0"><span>99</span></div>
<div class="t" style="left:652.69px;top:319.50px;width:200px;text-align:center;font-size:16.75px;font-weight:400;color:#231f20;transform:scaleX(0.99);transform-origin:50% 0"><span>94</span></div>
<div class="t" style="left:714.14px;top:319.50px;width:200px;text-align:center;font-size:16.75px;font-weight:400;color:#231f20;transform:scaleX(0.99);transform-origin:50% 0"><span>89</span></div>
<div class="t" style="left:775.24px;top:319.50px;width:200px;text-align:center;font-size:16.75px;font-weight:400;color:#231f20;transform:scaleX(0.99);transform-origin:50% 0"><span>82</span></div>
<div class="t" style="left:836.64px;top:319.50px;width:200px;text-align:center;font-size:16.75px;font-weight:400;color:#231f20;transform:scaleX(0.99);transform-origin:50% 0"><span>75</span></div>
<div class="t" style="left:898.09px;top:319.50px;width:200px;text-align:center;font-size:16.75px;font-weight:400;color:#231f20;transform:scaleX(0.99);transform-origin:50% 0"><span>67</span></div>
<div class="t" style="left:960.04px;top:320.24px;width:200px;text-align:center;font-size:16.75px;font-weight:400;color:#231f20;transform:scaleX(1.3365);transform-origin:50% 0"><span>-</span></div>
<div class="t" style="left:1021.59px;top:320.24px;width:200px;text-align:center;font-size:16.75px;font-weight:400;color:#231f20;transform:scaleX(1.3365);transform-origin:50% 0"><span>-</span></div>
<div class="t" style="left:1083.39px;top:320.24px;width:200px;text-align:center;font-size:16.75px;font-weight:400;color:#231f20;transform:scaleX(1.3365);transform-origin:50% 0"><span>-</span></div>
<div class="t b" style="left:9.80px;top:344.45px;font-size:14.7px;font-weight:700;color:#231f20;transform:scaleX(1.175);transform-origin:0 0"><span>BVT/BVS 20-10</span></div>
<div class="t" style="left:103.59px;top:344.50px;width:200px;text-align:center;font-size:16.75px;font-weight:400;color:#231f20;transform:scaleX(0.99);transform-origin:50% 0"><span>50x50</span></div>
<div class="t" style="left:168.79px;top:344.50px;width:200px;text-align:center;font-size:16.75px;font-weight:400;color:#231f20;transform:scaleX(0.99);transform-origin:50% 0"><span>11</span></div>
<div class="t" style="left:219.79px;top:344.50px;width:200px;text-align:center;font-size:16.75px;font-weight:400;color:#231f20;transform:scaleX(0.99);transform-origin:50% 0"><span>15</span></div>
<div class="t" style="left:280.29px;top:345.16px;width:200px;text-align:center;font-size:16.75px;font-weight:400;color:#231f20;transform:scaleX(1.3365);transform-origin:50% 0"><span>-</span></div>
<div class="t" style="left:345.84px;top:344.50px;width:200px;text-align:center;font-size:16.75px;font-weight:400;color:#231f20;transform:scaleX(0.99);transform-origin:50% 0"><span>136</span></div>
<div class="t" style="left:407.39px;top:344.50px;width:200px;text-align:center;font-size:16.75px;font-weight:400;color:#231f20;transform:scaleX(0.99);transform-origin:50% 0"><span>134</span></div>
<div class="t" style="left:468.94px;top:344.50px;width:200px;text-align:center;font-size:16.75px;font-weight:400;color:#231f20;transform:scaleX(0.99);transform-origin:50% 0"><span>131</span></div>
<div class="t" style="left:530.44px;top:344.50px;width:200px;text-align:center;font-size:16.75px;font-weight:400;color:#231f20;transform:scaleX(0.99);transform-origin:50% 0"><span>128</span></div>
<div class="t" style="left:591.84px;top:344.50px;width:200px;text-align:center;font-size:16.75px;font-weight:400;color:#231f20;transform:scaleX(0.99);transform-origin:50% 0"><span>124</span></div>
<div class="t" style="left:653.29px;top:344.50px;width:200px;text-align:center;font-size:16.75px;font-weight:400;color:#231f20;transform:scaleX(0.99);transform-origin:50% 0"><span>118</span></div>
<div class="t" style="left:714.74px;top:344.50px;width:200px;text-align:center;font-size:16.75px;font-weight:400;color:#231f20;transform:scaleX(0.99);transform-origin:50% 0"><span>111</span></div>
<div class="t" style="left:775.84px;top:344.50px;width:200px;text-align:center;font-size:16.75px;font-weight:400;color:#231f20;transform:scaleX(0.99);transform-origin:50% 0"><span>103</span></div>
<div class="t" style="left:836.64px;top:344.50px;width:200px;text-align:center;font-size:16.75px;font-weight:400;color:#231f20;transform:scaleX(0.99);transform-origin:50% 0"><span>95</span></div>
<div class="t" style="left:898.09px;top:344.50px;width:200px;text-align:center;font-size:16.75px;font-weight:400;color:#231f20;transform:scaleX(0.99);transform-origin:50% 0"><span>85</span></div>
<div class="t" style="left:960.04px;top:345.16px;width:200px;text-align:center;font-size:16.75px;font-weight:400;color:#231f20;transform:scaleX(1.3365);transform-origin:50% 0"><span>-</span></div>
<div class="t" style="left:1021.59px;top:345.16px;width:200px;text-align:center;font-size:16.75px;font-weight:400;color:#231f20;transform:scaleX(1.3365);transform-origin:50% 0"><span>-</span></div>
<div class="t" style="left:1083.39px;top:345.16px;width:200px;text-align:center;font-size:16.75px;font-weight:400;color:#231f20;transform:scaleX(1.3365);transform-origin:50% 0"><span>-</span></div>
<div class="t b" style="left:9.80px;top:369.45px;font-size:14.7px;font-weight:700;color:#231f20;transform:scaleX(1.175);transform-origin:0 0"><span>BVT/BVS 20-12</span></div>
<div class="t" style="left:103.59px;top:369.50px;width:200px;text-align:center;font-size:16.75px;font-weight:400;color:#231f20;transform:scaleX(0.99);transform-origin:50% 0"><span>50x50</span></div>
<div class="t" style="left:168.79px;top:369.50px;width:200px;text-align:center;font-size:16.75px;font-weight:400;color:#231f20;transform:scaleX(0.99);transform-origin:50% 0"><span>15</span></div>
<div class="t" style="left:219.79px;top:369.50px;width:200px;text-align:center;font-size:16.75px;font-weight:400;color:#231f20;transform:scaleX(0.99);transform-origin:50% 0"><span>20</span></div>
<div class="t" style="left:280.29px;top:370.08px;width:200px;text-align:center;font-size:16.75px;font-weight:400;color:#231f20;transform:scaleX(1.3365);transform-origin:50% 0"><span>-</span></div>
<div class="t" style="left:345.84px;top:369.50px;width:200px;text-align:center;font-size:16.75px;font-weight:400;color:#231f20;transform:scaleX(0.99);transform-origin:50% 0"><span>164</span></div>
<div class="t" style="left:407.39px;top:369.50px;width:200px;text-align:center;font-size:16.75px;font-weight:400;color:#231f20;transform:scaleX(0.99);transform-origin:50% 0"><span>162</span></div>
<div class="t" style="left:468.94px;top:369.50px;width:200px;text-align:center;font-size:16.75px;font-weight:400;color:#231f20;transform:scaleX(0.99);transform-origin:50% 0"><span>158</span></div>
<div class="t" style="left:530.44px;top:369.50px;width:200px;text-align:center;font-size:16.75px;font-weight:400;color:#231f20;transform:scaleX(0.99);transform-origin:50% 0"><span>154</span></div>
<div class="t" style="left:591.84px;top:369.50px;width:200px;text-align:center;font-size:16.75px;font-weight:400;color:#231f20;transform:scaleX(0.99);transform-origin:50% 0"><span>149</span></div>
<div class="t" style="left:653.29px;top:369.50px;width:200px;text-align:center;font-size:16.75px;font-weight:400;color:#231f20;transform:scaleX(0.99);transform-origin:50% 0"><span>142</span></div>
<div class="t" style="left:714.74px;top:369.50px;width:200px;text-align:center;font-size:16.75px;font-weight:400;color:#231f20;transform:scaleX(0.99);transform-origin:50% 0"><span>133</span></div>
<div class="t" style="left:775.84px;top:369.50px;width:200px;text-align:center;font-size:16.75px;font-weight:400;color:#231f20;transform:scaleX(0.99);transform-origin:50% 0"><span>124</span></div>
<div class="t" style="left:837.24px;top:369.50px;width:200px;text-align:center;font-size:16.75px;font-weight:400;color:#231f20;transform:scaleX(0.99);transform-origin:50% 0"><span>114</span></div>
<div class="t" style="left:898.69px;top:369.50px;width:200px;text-align:center;font-size:16.75px;font-weight:400;color:#231f20;transform:scaleX(0.99);transform-origin:50% 0"><span>102</span></div>
<div class="t" style="left:960.04px;top:370.08px;width:200px;text-align:center;font-size:16.75px;font-weight:400;color:#231f20;transform:scaleX(1.3365);transform-origin:50% 0"><span>-</span></div>
<div class="t" style="left:1021.59px;top:370.08px;width:200px;text-align:center;font-size:16.75px;font-weight:400;color:#231f20;transform:scaleX(1.3365);transform-origin:50% 0"><span>-</span></div>
<div class="t" style="left:1083.39px;top:370.08px;width:200px;text-align:center;font-size:16.75px;font-weight:400;color:#231f20;transform:scaleX(1.3365);transform-origin:50% 0"><span>-</span></div>
<div class="t b" style="left:9.80px;top:394.45px;font-size:14.7px;font-weight:700;color:#231f20;transform:scaleX(1.175);transform-origin:0 0"><span>BVT/BVS 20-14</span></div>
<div class="t" style="left:103.59px;top:394.50px;width:200px;text-align:center;font-size:16.75px;font-weight:400;color:#231f20;transform:scaleX(0.99);transform-origin:50% 0"><span>50x50</span></div>
<div class="t" style="left:168.79px;top:394.50px;width:200px;text-align:center;font-size:16.75px;font-weight:400;color:#231f20;transform:scaleX(0.99);transform-origin:50% 0"><span>15</span></div>
<div class="t" style="left:219.79px;top:394.50px;width:200px;text-align:center;font-size:16.75px;font-weight:400;color:#231f20;transform:scaleX(0.99);transform-origin:50% 0"><span>20</span></div>
<div class="t" style="left:280.29px;top:395.00px;width:200px;text-align:center;font-size:16.75px;font-weight:400;color:#231f20;transform:scaleX(1.3365);transform-origin:50% 0"><span>-</span></div>
<div class="t" style="left:345.84px;top:394.50px;width:200px;text-align:center;font-size:16.75px;font-weight:400;color:#231f20;transform:scaleX(0.99);transform-origin:50% 0"><span>192</span></div>
<div class="t" style="left:407.39px;top:394.50px;width:200px;text-align:center;font-size:16.75px;font-weight:400;color:#231f20;transform:scaleX(0.99);transform-origin:50% 0"><span>189</span></div>
<div class="t" style="left:468.94px;top:394.50px;width:200px;text-align:center;font-size:16.75px;font-weight:400;color:#231f20;transform:scaleX(0.99);transform-origin:50% 0"><span>185</span></div>
<div class="t" style="left:530.44px;top:394.50px;width:200px;text-align:center;font-size:16.75px;font-weight:400;color:#231f20;transform:scaleX(0.99);transform-origin:50% 0"><span>180</span></div>
<div class="t" style="left:591.84px;top:394.50px;width:200px;text-align:center;font-size:16.75px;font-weight:400;color:#231f20;transform:scaleX(0.99);transform-origin:50% 0"><span>174</span></div>
<div class="t" style="left:653.29px;top:394.50px;width:200px;text-align:center;font-size:16.75px;font-weight:400;color:#231f20;transform:scaleX(0.99);transform-origin:50% 0"><span>166</span></div>
<div class="t" style="left:714.74px;top:394.50px;width:200px;text-align:center;font-size:16.75px;font-weight:400;color:#231f20;transform:scaleX(0.99);transform-origin:50% 0"><span>156</span></div>
<div class="t" style="left:775.84px;top:394.50px;width:200px;text-align:center;font-size:16.75px;font-weight:400;color:#231f20;transform:scaleX(0.99);transform-origin:50% 0"><span>145</span></div>
<div class="t" style="left:837.24px;top:394.50px;width:200px;text-align:center;font-size:16.75px;font-weight:400;color:#231f20;transform:scaleX(0.99);transform-origin:50% 0"><span>133</span></div>
<div class="t" style="left:898.69px;top:394.50px;width:200px;text-align:center;font-size:16.75px;font-weight:400;color:#231f20;transform:scaleX(0.99);transform-origin:50% 0"><span>119</span></div>
<div class="t" style="left:960.04px;top:395.00px;width:200px;text-align:center;font-size:16.75px;font-weight:400;color:#231f20;transform:scaleX(1.3365);transform-origin:50% 0"><span>-</span></div>
<div class="t" style="left:1021.59px;top:395.00px;width:200px;text-align:center;font-size:16.75px;font-weight:400;color:#231f20;transform:scaleX(1.3365);transform-origin:50% 0"><span>-</span></div>
<div class="t" style="left:1083.39px;top:395.00px;width:200px;text-align:center;font-size:16.75px;font-weight:400;color:#231f20;transform:scaleX(1.3365);transform-origin:50% 0"><span>-</span></div>
<div class="t b" style="left:9.80px;top:419.45px;font-size:14.7px;font-weight:700;color:#231f20;transform:scaleX(1.175);transform-origin:0 0"><span>BVT/BVS 20-17</span></div>
<div class="t" style="left:103.59px;top:419.50px;width:200px;text-align:center;font-size:16.75px;font-weight:400;color:#231f20;transform:scaleX(0.99);transform-origin:50% 0"><span>50x50</span></div>
<div class="t" style="left:168.79px;top:419.50px;width:200px;text-align:center;font-size:16.75px;font-weight:400;color:#231f20;transform:scaleX(0.99);transform-origin:50% 0"><span>18.5</span></div>
<div class="t" style="left:219.79px;top:419.50px;width:200px;text-align:center;font-size:16.75px;font-weight:400;color:#231f20;transform:scaleX(0.99);transform-origin:50% 0"><span>25</span></div>
<div class="t" style="left:280.29px;top:419.92px;width:200px;text-align:center;font-size:16.75px;font-weight:400;color:#231f20;transform:scaleX(1.3365);transform-origin:50% 0"><span>-</span></div>
<div class="t" style="left:345.24px;top:419.50px;width:200px;text-align:center;font-size:16.75px;font-weight:400;color:#231f20;transform:scaleX(0.99);transform-origin:50% 0"><span>234</span></div>
<div class="t" style="left:406.79px;top:419.50px;width:200px;text-align:center;font-size:16.75px;font-weight:400;color:#231f20;transform:scaleX(0.99);transform-origin:50% 0"><span>230</span></div>
<div class="t" style="left:468.34px;top:419.50px;width:200px;text-align:center;font-size:16.75px;font-weight:400;color:#231f20;transform:scaleX(0.99);transform-origin:50% 0"><span>225</span></div>
<div class="t" style="left:529.84px;top:419.50px;width:200px;text-align:center;font-size:16.75px;font-weight:400;color:#231f20;transform:scaleX(0.99);transform-origin:50% 0"><span>219</span></div>
<div class="t" style="left:591.24px;top:419.50px;width:200px;text-align:center;font-size:16.75px;font-weight:400;color:#231f20;transform:scaleX(0.99);transform-origin:50% 0"><span>212</span></div>
<div class="t" style="left:652.69px;top:419.50px;width:200px;text-align:center;font-size:16.75px;font-weight:400;color:#231f20;transform:scaleX(0.99);transform-origin:50% 0"><span>202</span></div>
<div class="t" style="left:714.74px;top:419.50px;width:200px;text-align:center;font-size:16.75px;font-weight:400;color:#231f20;transform:scaleX(0.99);transform-origin:50% 0"><span>190</span></div>
<div class="t" style="left:775.84px;top:419.50px;width:200px;text-align:center;font-size:16.75px;font-weight:400;color:#231f20;transform:scaleX(0.99);transform-origin:50% 0"><span>177</span></div>
<div class="t" style="left:837.24px;top:419.50px;width:200px;text-align:center;font-size:16.75px;font-weight:400;color:#231f20;transform:scaleX(0.99);transform-origin:50% 0"><span>162</span></div>
<div class="t" style="left:898.69px;top:419.50px;width:200px;text-align:center;font-size:16.75px;font-weight:400;color:#231f20;transform:scaleX(0.99);transform-origin:50% 0"><span>145</span></div>
<div class="t" style="left:960.04px;top:419.92px;width:200px;text-align:center;font-size:16.75px;font-weight:400;color:#231f20;transform:scaleX(1.3365);transform-origin:50% 0"><span>-</span></div>
<div class="t" style="left:1021.59px;top:419.92px;width:200px;text-align:center;font-size:16.75px;font-weight:400;color:#231f20;transform:scaleX(1.3365);transform-origin:50% 0"><span>-</span></div>
<div class="t" style="left:1083.39px;top:419.92px;width:200px;text-align:center;font-size:16.75px;font-weight:400;color:#231f20;transform:scaleX(1.3365);transform-origin:50% 0"><span>-</span></div>
</body></html>
